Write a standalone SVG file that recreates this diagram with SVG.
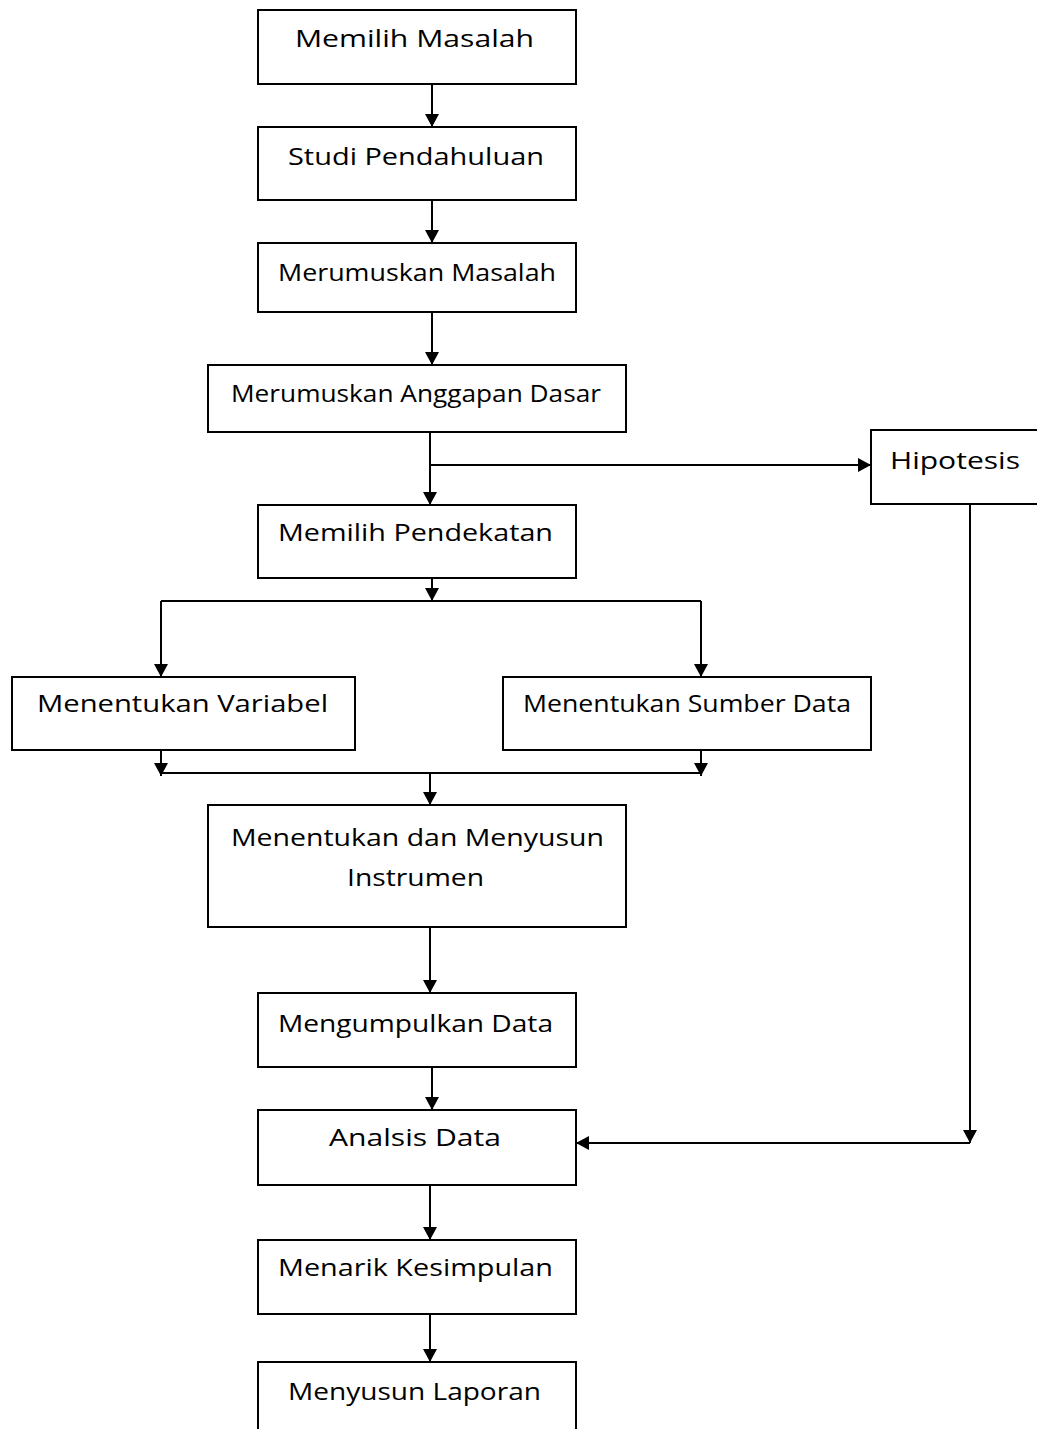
<svg xmlns="http://www.w3.org/2000/svg" width="1037" height="1429" viewBox="0 0 1037 1429">
<style>
rect{fill:#fff;stroke:#000;stroke-width:2}
text{font-family:"Open Sans","DejaVu Sans",sans-serif;font-size:24px;fill:#000}
.c path{fill:none;stroke:#000;stroke-width:2}
</style>
<defs>
<marker id="a" viewBox="0 0 13 14" refX="13" refY="7" markerWidth="13" markerHeight="14" markerUnits="userSpaceOnUse" orient="auto">
<path d="M0,0L13,7L0,14z" fill="#000"/>
</marker>
</defs>
<rect x="0" y="0" width="1037" height="1429" style="stroke:none"/>
<g id="n1"><rect x="258" y="10" width="318" height="74"/><text x="295" y="47" textLength="239" lengthAdjust="spacingAndGlyphs">Memilih Masalah</text></g>
<g id="n2"><rect x="258" y="127" width="318" height="73"/><text x="288" y="165" textLength="256" lengthAdjust="spacingAndGlyphs">Studi Pendahuluan</text></g>
<g id="n3"><rect x="258" y="243" width="318" height="69"/><text x="278" y="281" textLength="278" lengthAdjust="spacingAndGlyphs">Merumuskan Masalah</text></g>
<g id="n4"><rect x="208" y="365" width="418" height="67"/><text x="231" y="402" textLength="370" lengthAdjust="spacingAndGlyphs">Merumuskan Anggapan Dasar</text></g>
<g id="n5"><rect x="871" y="430" width="180" height="74"/><text x="890" y="469" textLength="130" lengthAdjust="spacingAndGlyphs">Hipotesis</text></g>
<g id="n6"><rect x="258" y="505" width="318" height="73"/><text x="278" y="541" textLength="275" lengthAdjust="spacingAndGlyphs">Memilih Pendekatan</text></g>
<g id="n7"><rect x="12" y="677" width="343" height="73"/><text x="37" y="712" textLength="291" lengthAdjust="spacingAndGlyphs">Menentukan Variabel</text></g>
<g id="n8"><rect x="503" y="677" width="368" height="73"/><text x="523" y="712" textLength="328" lengthAdjust="spacingAndGlyphs">Menentukan Sumber Data</text></g>
<g id="n9"><rect x="208" y="805" width="418" height="122"/><text x="231" y="846" textLength="373" lengthAdjust="spacingAndGlyphs">Menentukan dan Menyusun</text><text x="347" y="886" textLength="137" lengthAdjust="spacingAndGlyphs">Instrumen</text></g>
<g id="n10"><rect x="258" y="993" width="318" height="74"/><text x="278" y="1032" textLength="275" lengthAdjust="spacingAndGlyphs">Mengumpulkan Data</text></g>
<g id="n11"><rect x="258" y="1110" width="318" height="75"/><text x="329" y="1146" textLength="172" lengthAdjust="spacingAndGlyphs">Analsis Data</text></g>
<g id="n12"><rect x="258" y="1240" width="318" height="74"/><text x="278" y="1276" textLength="275" lengthAdjust="spacingAndGlyphs">Menarik Kesimpulan</text></g>
<g id="n13"><rect x="258" y="1362" width="318" height="80"/><text x="288" y="1400" textLength="253" lengthAdjust="spacingAndGlyphs">Menyusun Laporan</text></g>
<g id="connectors" class="c">
<path d="M432,84V127" marker-end="url(#a)"/>
<path d="M432,200V243" marker-end="url(#a)"/>
<path d="M432,312V365" marker-end="url(#a)"/>
<path d="M430,432V505" marker-end="url(#a)"/>
<path d="M430,465H871" marker-end="url(#a)"/>
<path d="M432,578V601" marker-end="url(#a)"/>
<path d="M161,601H701"/>
<path d="M161,601V677" marker-end="url(#a)"/>
<path d="M701,601V677" marker-end="url(#a)"/>
<path d="M161,750V776" marker-end="url(#a)"/>
<path d="M701,750V776" marker-end="url(#a)"/>
<path d="M161,773H701"/>
<path d="M430,773V805" marker-end="url(#a)"/>
<path d="M430,927V993" marker-end="url(#a)"/>
<path d="M432,1067V1110" marker-end="url(#a)"/>
<path d="M970,504V1143" marker-end="url(#a)"/>
<path d="M970,1143H576" marker-end="url(#a)"/>
<path d="M430,1185V1240" marker-end="url(#a)"/>
<path d="M430,1314V1362" marker-end="url(#a)"/>
</g>
</svg>
